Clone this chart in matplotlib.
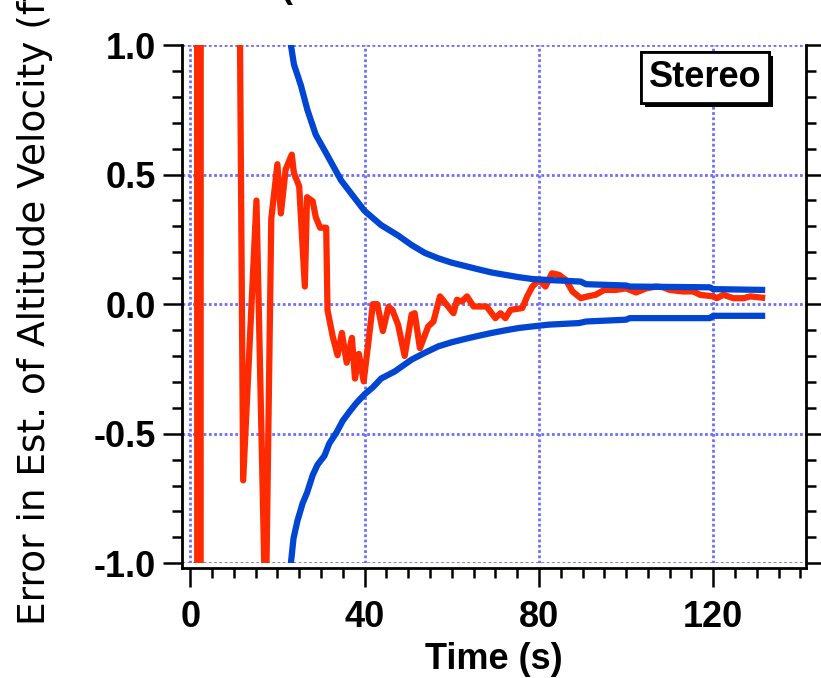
import matplotlib
matplotlib.use("Agg")
import matplotlib.pyplot as plt
import matplotlib.patheffects as pe
from matplotlib.ticker import MultipleLocator

# estimation error (red) and +/- one-sigma bounds (blue), stereo case
err_t = [1.2, 2.0, 2.8, 11.0, 12.15, 15.2, 17.3, 18.6, 20.0, 20.8, 21.9, 23.3, 23.8,
         25.0, 26.3, 26.8, 28.1, 28.8, 29.8, 31.2, 31.5, 32.7, 33.8, 34.8, 35.9,
         37.1, 37.8, 38.7, 39.8, 40.8, 41.9, 42.9, 44.2, 45.5, 46.4, 47.7, 49.2,
         50.8, 51.5, 52.7, 54.6, 55.8, 57.3, 60.4, 61.2, 62.3, 63.5, 65.0, 68.0,
         70.0, 71.2, 72.3, 73.5, 76.2, 77.3, 78.5, 80.0, 81.5, 83.0, 84.6, 86.2,
         87.7, 89.6, 91.2, 93.0, 95.0, 97.7, 100.0, 102.3, 104.6, 106.9, 108.5,
         110.0, 113.0, 115.4, 117.0, 120.0, 120.8, 122.3, 124.6, 127.0, 128.5, 131.2]
err_v = [40.0, -40.0, 40.0, 2.0, -0.68, 0.40, -1.25, 0.33, 0.54, 0.35, 0.52, 0.577, 0.505,
         0.455, 0.068, 0.413, 0.397, 0.336, 0.295, 0.295, -0.023, -0.125, -0.197, -0.111, -0.226,
         -0.13, -0.287, -0.192, -0.298, -0.158, 0.0, 0.0, -0.104, -0.01, -0.023, -0.08, -0.2,
         -0.04, -0.035, -0.17, -0.086, -0.067, 0.03, -0.035, 0.017, 0.01, 0.03, -0.009, -0.009,
         -0.054, -0.035, -0.054, -0.022, -0.015, 0.03, 0.068, 0.093, 0.068, 0.119, 0.113, 0.093,
         0.049, 0.023, 0.03, 0.036, 0.055, 0.055, 0.061, 0.045, 0.061, 0.068, 0.065,
         0.055, 0.049, 0.049, 0.036, 0.03, 0.023, 0.036, 0.023, 0.023, 0.03, 0.025]

up_t = [22.4, 23.1, 23.8, 25.4, 26.9, 28.8, 31.5, 34.6, 37.7, 40.0, 43.8, 47.7, 50.8,
        53.8, 56.9, 60.0, 63.1, 66.2, 69.2, 72.3, 75.4, 78.5, 82.3, 86.2, 89.6, 90.8,
        100.0, 100.8, 119.2, 120.0, 131.2]
up_v = [1.12, 1.0, 0.925, 0.844, 0.749, 0.654, 0.573, 0.478, 0.41, 0.36, 0.305, 0.265, 0.228,
        0.198, 0.177, 0.16, 0.147, 0.134, 0.122, 0.113, 0.104, 0.097, 0.093, 0.09, 0.087, 0.077,
        0.072, 0.068, 0.065, 0.058, 0.055]

lo_t = [22.4, 23.1, 23.7, 24.6, 25.8, 26.8, 28.1, 29.2, 30.8, 31.9, 33.5, 35.0, 36.5, 38.1,
        40.0, 41.9, 43.8, 46.9, 50.8, 53.8, 56.9, 60.0, 63.1, 66.2, 69.2, 72.3, 75.4, 78.5,
        82.3, 89.2, 90.8, 100.0, 100.8, 119.2, 120.0, 131.2]
lo_v = [-1.12, -1.0, -0.904, -0.836, -0.768, -0.728, -0.66, -0.62, -0.585, -0.538, -0.497,
        -0.45, -0.416, -0.382, -0.348, -0.321, -0.287, -0.26, -0.214, -0.188, -0.163, -0.147,
        -0.134, -0.122, -0.111, -0.101, -0.092, -0.086, -0.079, -0.073, -0.067, -0.06, -0.054,
        -0.054, -0.045, -0.045]

plt.rcParams['font.family'] = ['Liberation Sans', 'DejaVu Sans']
plt.rcParams['font.weight'] = 'bold'
plt.rcParams['font.size'] = 26
plt.rcParams['axes.unicode_minus'] = False

fig = plt.figure(figsize=(8.21, 6.78), dpi=100)
ax = fig.add_axes([0.2217, 0.1692, 0.76, 0.7644])

red = '#ff2a00'
blue = '#0046d2'
ax.plot(err_t, err_v, color=red, lw=4.5, zorder=2)
ax.plot(up_t, up_v, color=blue, lw=4.5, zorder=3)
ax.plot(lo_t, lo_v, color=blue, lw=4.5, zorder=3)

ax.set_xlim(-1.88, 141.27)
ax.set_ylim(-1.0, 1.0)
ax.xaxis.set_major_locator(MultipleLocator(40))
ax.xaxis.set_minor_locator(MultipleLocator(5))
ax.yaxis.set_major_locator(MultipleLocator(0.5))
ax.yaxis.set_minor_locator(MultipleLocator(0.1))
ax.yaxis.set_major_formatter(plt.FuncFormatter(lambda v, p: f"{v:.1f}"))

ax.grid(True, which='major', color='#6e6eff', linestyle=(0, (1, 0.9)), linewidth=2)

ax.spines['top'].set_visible(False)
for s in ['left', 'right', 'bottom']:
    ax.spines[s].set_linewidth(2)
ax.spines['bottom'].set_position(('outward', 3.2))
ax.spines['left'].set_bounds(-1.017, 1.0)
ax.spines['right'].set_bounds(-1.017, 1.0)

ax.tick_params(which='both', direction='out', width=1.8, right=True, top=False,
               labelright=False)
ax.tick_params(which='major', length=14)
ax.tick_params(which='minor', length=7)
ax.tick_params(axis='y', which='major', pad=5)
ax.tick_params(axis='x', which='major', pad=9.5)

ax.set_xlabel('Time (s)', fontsize=26, fontweight='bold', labelpad=5)
fig.text(0.0548, 0.078, 'Error in Est. of Altitude Velocity (ft/s)', rotation=90,
         rotation_mode='anchor', ha='left', va='baseline', family='DejaVu Sans',
         fontsize=27, fontweight='normal')
fig.text(280 / 821, 1.0038, '(', ha='left', va='baseline', fontsize=26,
         fontweight='bold')

tag = fig.text(0.8587, 1 - 77.3 / 678, 'Stereo', ha='center', va='center',
               fontsize=26, fontweight='bold',
               bbox=dict(boxstyle='square,pad=0.22', fc='white', ec='black', lw=2))
tag.get_bbox_patch().set_path_effects([
    pe.withSimplePatchShadow(offset=(3, -3), shadow_rgbFace='black', alpha=1),
    pe.Normal()])

fig.savefig('out.png', dpi=100)
